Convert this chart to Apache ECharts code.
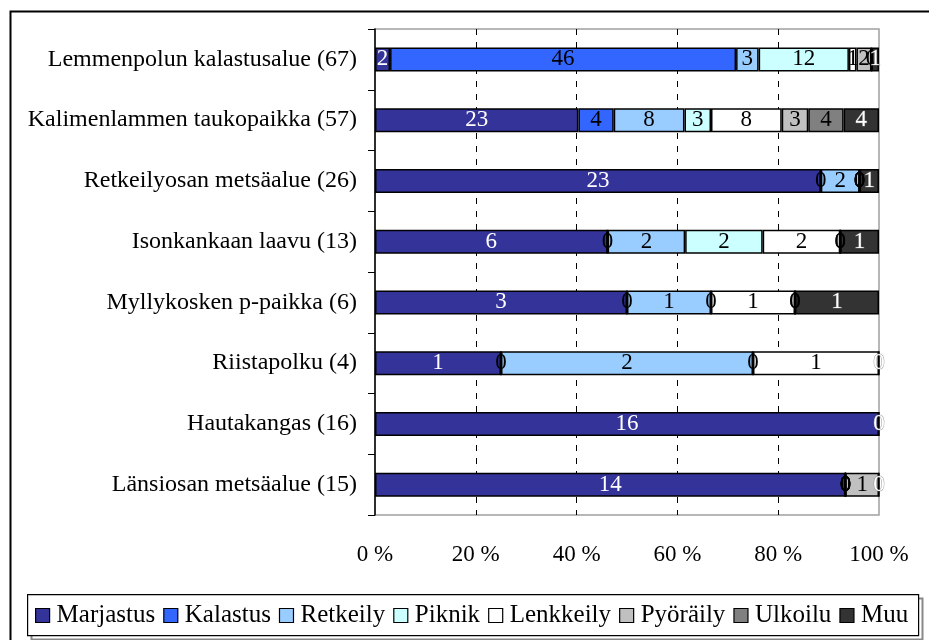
<!DOCTYPE html>
<html>
<head>
<meta charset="utf-8">
<script src="https://cdn.jsdelivr.net/npm/echarts@6/dist/echarts.min.js"></script>
<style>
html,body{margin:0;padding:0;background:#fff;}
#chart{width:929px;height:640px;}
</style>
</head>
<body>
<div id="chart"></div>
<script>
var categories = ['Lemmenpolun kalastusalue (67)', 'Kalimenlammen taukopaikka (57)', 'Retkeilyosan metsäalue (26)', 'Isonkankaan laavu (13)', 'Myllykosken p-paikka (6)', 'Riistapolku (4)', 'Hautakangas (16)', 'Länsiosan metsäalue (15)'];
var seriesNames = ['Marjastus', 'Kalastus', 'Retkeily', 'Piknik', 'Lenkkeily', 'Pyöräily', 'Ulkoilu', 'Muu'];
var marjastus = [2, 23, 23, 6, 3, 1, 16, 14];
var kalastus  = [46, 4, 0, 0, 0, 0, null, 0];
var retkeily  = [3, 8, 2, 2, 1, 2, null, 0];
var piknik    = [12, 3, 0, 2, 0, 0, null, 0];
var lenkkeily = [1, 8, 0, 2, 1, 1, null, 0];
var pyoraily  = [2, 3, 0, 0, 0, null, null, 1];
var ulkoilu   = [0, 4, 0, 0, 0, null, null, null];
var muu       = [1, 4, 1, 1, 1, 0, 0, 0];
var xTicks = [0, 20, 40, 60, 80, 100];

var counts = [marjastus, kalastus, retkeily, piknik, lenkkeily, pyoraily, ulkoilu, muu];
var colors = ['#333399', '#3366FF', '#99CCFF', '#CCFFFF', '#FFFFFF', '#C0C0C0', '#808080', '#333333'];
var labelColors = ['#fff', '#000', '#000', '#000', '#000', '#000', '#000', '#fff'];

var totals = categories.map(function (c, i) {
  var s = 0;
  counts.forEach(function (arr) { if (arr[i] != null) s += arr[i]; });
  return s;
});

var FONT = 'Liberation Serif';

var series = seriesNames.map(function (name, si) {
  return {
    name: name,
    type: 'bar',
    stack: 'total',
    barWidth: 24,
    data: counts[si].map(function (v, i) { return v == null ? null : v / totals[i] * 100; }),
    itemStyle: { color: colors[si], borderColor: '#000', borderWidth: 1.5 },
    label: {
      show: true,
      position: 'inside',
      fontFamily: FONT,
      fontSize: 23,
      color: labelColors[si],
      textBorderColor: si === 7 ? 'rgba(120,120,120,0.7)' : 'transparent',
      textBorderWidth: si === 7 ? 1 : 0,
      formatter: function (p) { return String(counts[si][p.dataIndex]); }
    },
    emphasis: { disabled: true },
    animation: false
  };
});

var chart = echarts.init(document.getElementById('chart'));
chart.setOption({
  animation: false,
  backgroundColor: '#fff',
  graphic: [
    { type: 'rect', left: 8, top: 9, shape: { width: 940, height: 660 }, style: { fill: 'none', stroke: '#000', lineWidth: 2 }, z: 100, silent: true },
    { type: 'rect', left: 29, top: 596, shape: { width: 891, height: 41 }, style: { fill: 'none', stroke: '#888', lineWidth: 2 }, z: -2, silent: true },
    { type: 'rect', left: 27, top: 594, shape: { width: 891, height: 41 }, style: { fill: '#fff', stroke: '#000', lineWidth: 1.2 }, z: -1, silent: true }
  ],
  legend: {
    left: 35,
    top: 603,
    width: 890,
    padding: 0,
    itemWidth: 14,
    itemHeight: 14,
    itemGap: 8,
    icon: 'rect',
    itemStyle: { borderColor: '#000', borderWidth: 1.2 },
    textStyle: { fontFamily: FONT, fontSize: 25, color: '#000', padding: [0, 0, 0, 2] },
    data: seriesNames
  },
  grid: {
    left: 375, top: 29, right: 50, bottom: 125,
    show: true, borderColor: '#a0a0a0', borderWidth: 1.5, backgroundColor: 'transparent'
  },
  xAxis: {
    type: 'value',
    min: 0, max: 100, interval: 20,
    axisLine: { show: false },
    axisTick: { show: false },
    axisLabel: {
      fontFamily: FONT, fontSize: 23, color: '#000', margin: 28,
      formatter: function (v) { return xTicks.indexOf(v) >= 0 ? v + ' %' : ''; }
    },
    splitLine: { show: true, showMinLine: false, showMaxLine: false, lineStyle: { color: '#000', type: [6, 7], width: 1 } }
  },
  yAxis: {
    type: 'category',
    inverse: true,
    data: categories,
    axisLine: { show: true, lineStyle: { color: '#000', width: 1.5 } },
    axisTick: { show: true, length: 7, lineStyle: { color: '#000' } },
    axisLabel: { fontFamily: FONT, fontSize: 24, color: '#000', margin: 18 }
  },
  series: series
});
</script>
</body>
</html>
